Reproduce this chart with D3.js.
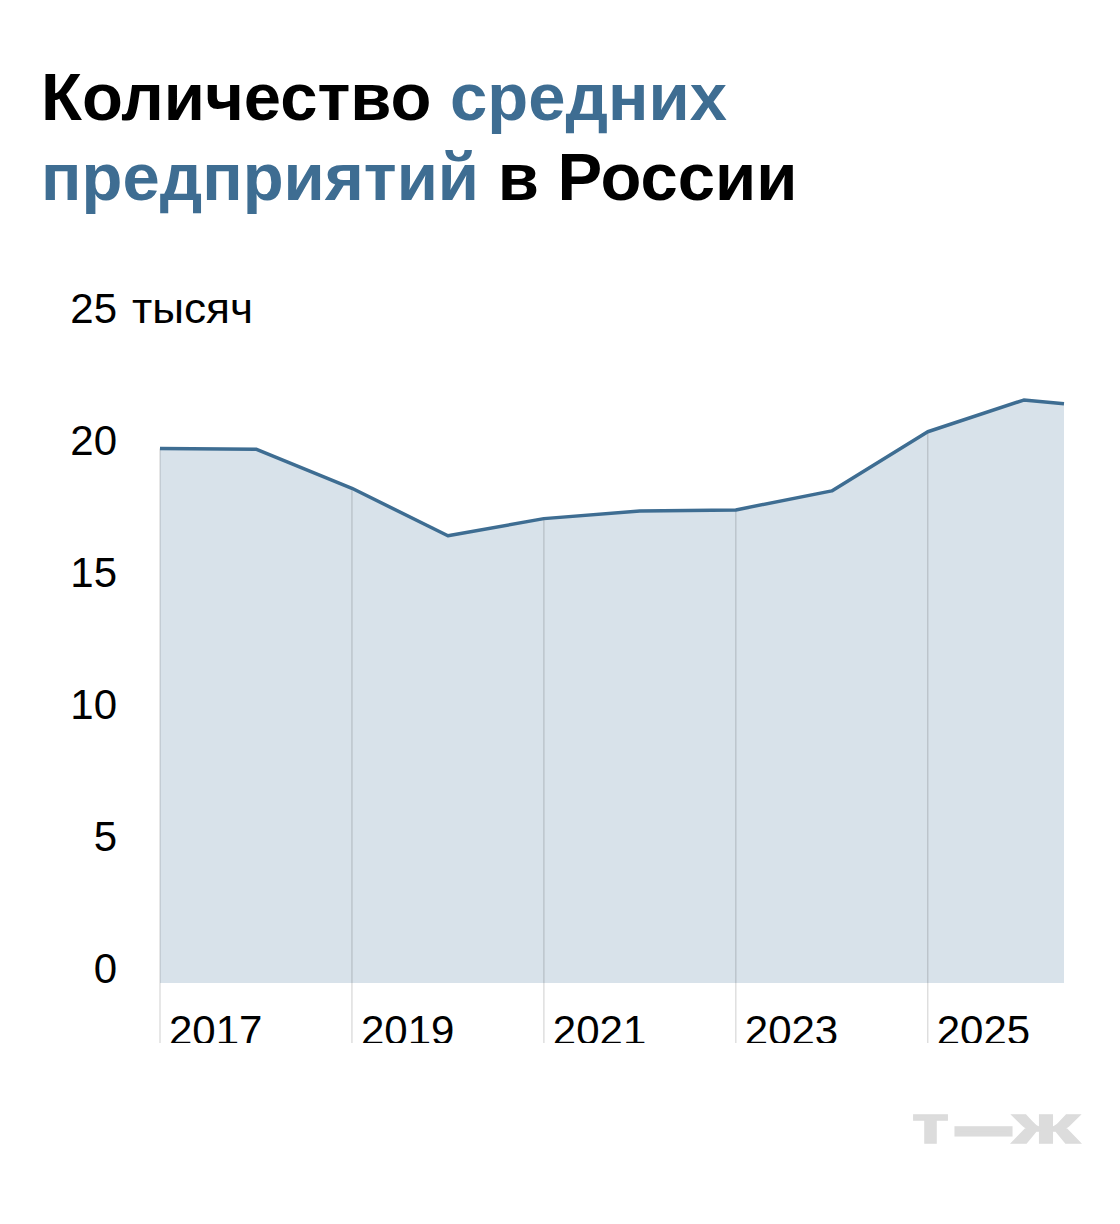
<!DOCTYPE html>
<html><head><meta charset="utf-8">
<script src="https://cdn.jsdelivr.net/npm/d3@7"></script>
<style>
html,body{margin:0;padding:0;background:#fff;}
svg{display:block;}
</style></head>
<body>
<script>
const years = [2017, 2018, 2019, 2020, 2021, 2022, 2023, 2024, 2025, 2026, 2026.42];
const values = [20.25, 20.22, 18.74, 16.94, 17.59, 17.88, 17.92, 18.64, 20.88, 22.08, 21.94];
const yTicks = [0, 5, 10, 15, 20, 25];
const xTicks = [2017, 2019, 2021, 2023, 2025];
const unitLabel = "тысяч";
const titleLine1 = [["Количество ", "#000"], ["средних", "#3e6d92"]];
const titleLine2 = [["предприятий", "#3e6d92"], [" в России", "#000"]];

const W = 1120, H = 1224;
const font = "'Liberation Sans', Arial, sans-serif";
const svg = d3.select("body").append("svg").attr("width", W).attr("height", H);

const x = d3.scaleLinear().domain([2017, 2026.42]).range([160, 1064]);
const y = d3.scaleLinear().domain([0, 25]).range([983, 323]);

// title
const t = svg.append("text").attr("font-family", font).attr("font-weight", 700)
  .attr("font-size", 67);
const l1 = t.append("tspan").attr("x", 41).attr("y", 120);
titleLine1.forEach(([s, c], i) => (i === 0 ? l1 : t.append("tspan")).text(s).attr("fill", c));
let first = true;
titleLine2.forEach(([s, c]) => {
  const ts = t.append("tspan").text(s).attr("fill", c);
  if (first) { ts.attr("x", 41).attr("y", 200); first = false; }
});

const data = years.map((yr, i) => ({yr, v: values[i]}));

// area
svg.append("path").datum(data)
  .attr("fill", "#d8e2ea")
  .attr("d", d3.area().x(d => x(d.yr)).y0(y(0)).y1(d => y(d.v)));

// vertical tick lines
svg.append("defs").append("clipPath").attr("id", "clipb")
  .append("rect").attr("x", 0).attr("y", 0).attr("width", W).attr("height", 1043);
const interp = yr => {
  const i = d3.bisector(d => d.yr).left(data, yr);
  if (data[i].yr === yr) return data[i].v;
  const a = data[i-1], b = data[i];
  return a.v + (b.v - a.v) * (yr - a.yr) / (b.yr - a.yr);
};
const gx = svg.append("g").attr("clip-path", "url(#clipb)");
gx.selectAll("line").data(xTicks).join("line")
  .attr("x1", d => x(d)).attr("x2", d => x(d))
  .attr("y1", d => y(interp(d))).attr("y2", 1043)
  .attr("stroke", "#000").attr("stroke-opacity", 0.13).attr("stroke-width", 1.5);
gx.selectAll("text").data(xTicks).join("text")
  .attr("x", d => x(d) + 9).attr("y", 1045)
  .attr("font-family", font).attr("font-size", 42).attr("fill", "#000")
  .text(d => d);

// line
svg.append("path").datum(data)
  .attr("fill", "none").attr("stroke", "#3e6d92").attr("stroke-width", 3.5)
  .attr("stroke-linejoin", "round")
  .attr("d", d3.line().x(d => x(d.yr)).y(d => y(d.v)));

// y labels
svg.append("g").selectAll("text").data(yTicks).join("text")
  .attr("x", 117).attr("y", d => y(d))
  .attr("text-anchor", "end")
  .attr("font-family", font).attr("font-size", 42).attr("fill", "#000")
  .text(d => d);
svg.append("text").attr("x", 132).attr("y", y(25))
  .attr("font-family", font).attr("font-size", 42).attr("fill", "#000")
  .attr("textLength", 121).attr("lengthAdjust", "spacingAndGlyphs")
  .text(unitLabel);

// logo
const logo = svg.append("g").attr("fill", "#dcdcdc").attr("stroke", "#dcdcdc")
  .attr("font-family", font).attr("font-weight", 700).attr("font-size", 53);
logo.append("text").attr("x", 912).attr("y", 1143).attr("stroke-width", 1.5)
  .attr("textLength", 37).attr("lengthAdjust", "spacingAndGlyphs").text("т");
logo.append("text").attr("x", 957).attr("y", 1146).attr("stroke-width", 5)
  .attr("textLength", 53).attr("lengthAdjust", "spacingAndGlyphs").text("—");
logo.append("text").attr("x", 1013).attr("y", 1143).attr("stroke-width", 1.5)
  .attr("textLength", 66).attr("lengthAdjust", "spacingAndGlyphs").text("ж");
</script>
</body></html>
